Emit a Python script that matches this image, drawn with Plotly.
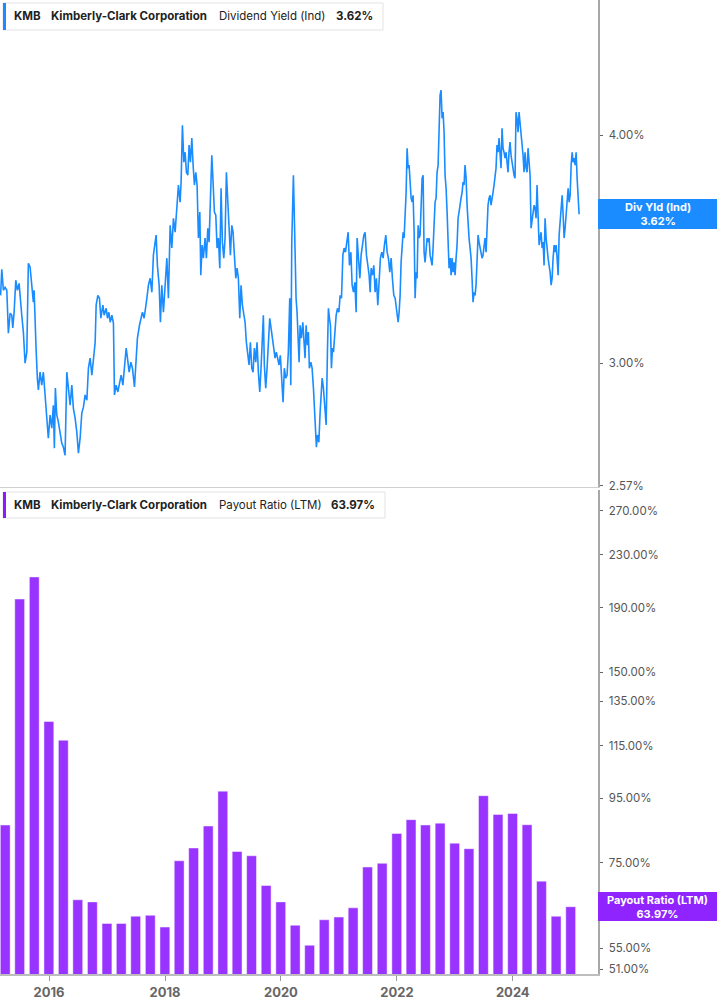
import numpy as np
import pandas as pd
import plotly.graph_objects as go

# ---------------- DATA ----------------
# Dividend yield (Ind), %; times are decimal years
yield_time = [
    2015.164, 2015.184, 2015.212, 2015.241, 2015.271, 2015.298, 2015.328, 2015.357, 2015.374, 2015.397,
    2015.426, 2015.453, 2015.483, 2015.500, 2015.529, 2015.557, 2015.586, 2015.616, 2015.643, 2015.673,
    2015.702, 2015.729, 2015.742, 2015.759, 2015.776, 2015.798, 2015.816, 2015.845, 2015.874, 2015.902,
    2015.931, 2015.961, 2015.988, 2016.018, 2016.047, 2016.074, 2016.092, 2016.109, 2016.133, 2016.161,
    2016.190, 2016.219, 2016.247, 2016.276, 2016.306, 2016.333, 2016.363, 2016.392, 2016.419, 2016.449,
    2016.478, 2016.506, 2016.535, 2016.564, 2016.592, 2016.621, 2016.651, 2016.678, 2016.707, 2016.737,
    2016.764, 2016.794, 2016.811, 2016.840, 2016.868, 2016.892, 2016.927, 2016.949, 2016.984, 2017.006,
    2017.030, 2017.053, 2017.082, 2017.109, 2017.127, 2017.156, 2017.185, 2017.213, 2017.242, 2017.272,
    2017.299, 2017.329, 2017.351, 2017.380, 2017.410, 2017.437, 2017.472, 2017.501, 2017.523, 2017.558,
    2017.587, 2017.610, 2017.639,
    2017.668, 2017.686, 2017.713, 2017.743, 2017.772, 2017.799, 2017.829, 2017.846, 2017.868, 2017.898,
    2017.920, 2017.944, 2017.972, 2018.001, 2018.031, 2018.058, 2018.088, 2018.117, 2018.145, 2018.174,
    2018.203, 2018.231, 2018.260, 2018.277, 2018.300, 2018.324, 2018.346, 2018.369, 2018.393, 2018.415,
    2018.438, 2018.462, 2018.484, 2018.507, 2018.531, 2018.553, 2018.576, 2018.600, 2018.617, 2018.640,
    2018.662, 2018.691, 2018.714, 2018.738, 2018.760, 2018.783, 2018.807, 2018.829, 2018.852, 2018.876,
    2018.898, 2018.921, 2018.945, 2018.967, 2018.990, 2019.014, 2019.036, 2019.059, 2019.083, 2019.105,
    2019.128, 2019.152, 2019.174, 2019.197, 2019.221, 2019.243, 2019.266, 2019.290, 2019.312, 2019.335,
    2019.359, 2019.381, 2019.404, 2019.428, 2019.450, 2019.473, 2019.497, 2019.519, 2019.542, 2019.566,
    2019.588, 2019.611, 2019.635, 2019.657, 2019.680, 2019.697, 2019.714, 2019.738, 2019.761, 2019.783,
    2019.807, 2019.830, 2019.852, 2019.876, 2019.899, 2019.921, 2019.945, 2019.968, 2019.990, 2020.014,
    2020.037, 2020.059, 2020.083, 2020.106, 2020.128, 2020.152, 2020.170,
    2020.187, 2020.215, 2020.227, 2020.244, 2020.261, 2020.278, 2020.296, 2020.313, 2020.330, 2020.353,
    2020.377, 2020.399, 2020.416, 2020.434, 2020.456, 2020.473, 2020.490, 2020.515, 2020.537, 2020.560,
    2020.577, 2020.594, 2020.611, 2020.629, 2020.653, 2020.675, 2020.692, 2020.710, 2020.732, 2020.756,
    2020.779, 2020.801, 2020.818, 2020.836, 2020.853, 2020.870, 2020.887, 2020.905, 2020.929, 2020.951,
    2020.974, 2020.998, 2021.020, 2021.043, 2021.067, 2021.089, 2021.112, 2021.136, 2021.158, 2021.181,
    2021.205, 2021.227, 2021.250, 2021.274, 2021.296, 2021.313, 2021.336, 2021.360, 2021.382, 2021.405,
    2021.429, 2021.451, 2021.474, 2021.498, 2021.520, 2021.538, 2021.555, 2021.577, 2021.601, 2021.624,
    2021.646, 2021.670, 2021.693, 2021.715, 2021.739, 2021.762, 2021.784, 2021.808, 2021.831, 2021.853,
    2021.877, 2021.900, 2021.922, 2021.946, 2021.969, 2021.986, 2022.003, 2022.021, 2022.038, 2022.055,
    2022.072, 2022.090, 2022.107, 2022.124, 2022.141, 2022.159, 2022.176, 2022.193, 2022.210, 2022.228,
    2022.245, 2022.262, 2022.279, 2022.297, 2022.314, 2022.331, 2022.348, 2022.366, 2022.383, 2022.400,
    2022.417, 2022.435, 2022.452, 2022.469, 2022.486, 2022.504, 2022.521, 2022.538, 2022.555, 2022.573,
    2022.590, 2022.607, 2022.624, 2022.642, 2022.659, 2022.676, 2022.693, 2022.711,
    2022.728, 2022.745, 2022.762, 2022.780, 2022.797, 2022.814, 2022.831, 2022.849, 2022.866, 2022.883,
    2022.900, 2022.918, 2022.935, 2022.952, 2022.969, 2022.987, 2023.004, 2023.021, 2023.038, 2023.056,
    2023.073, 2023.090, 2023.107, 2023.125, 2023.142, 2023.159, 2023.176, 2023.194, 2023.211, 2023.228,
    2023.245, 2023.263, 2023.280, 2023.297, 2023.314, 2023.332, 2023.349, 2023.366, 2023.383, 2023.401,
    2023.418, 2023.435, 2023.452, 2023.470, 2023.487, 2023.504, 2023.521, 2023.539, 2023.556, 2023.573,
    2023.590, 2023.608, 2023.625, 2023.642, 2023.659, 2023.677, 2023.694, 2023.711, 2023.728, 2023.746,
    2023.763, 2023.780, 2023.797, 2023.815, 2023.832, 2023.849, 2023.866, 2023.884, 2023.901, 2023.918,
    2023.935, 2023.953, 2023.970, 2023.987, 2024.004, 2024.022, 2024.039, 2024.056, 2024.073, 2024.091,
    2024.108, 2024.125, 2024.142, 2024.160, 2024.177, 2024.194, 2024.211, 2024.229, 2024.246, 2024.263,
    2024.280, 2024.298, 2024.315, 2024.332, 2024.349, 2024.367, 2024.384, 2024.401, 2024.418, 2024.436,
    2024.453, 2024.470, 2024.487, 2024.505, 2024.522, 2024.539, 2024.556, 2024.574, 2024.591, 2024.608,
    2024.625, 2024.643, 2024.660, 2024.677, 2024.694, 2024.712, 2024.729, 2024.746, 2024.763, 2024.781,
    2024.798, 2024.815, 2024.832, 2024.850, 2024.867, 2024.884, 2024.901, 2024.919, 2024.936, 2024.953,
    2024.970, 2024.988, 2025.005, 2025.022, 2025.039, 2025.056, 2025.074, 2025.091, 2025.108, 2025.125,
    2025.142,
]
yield_pct = [
    3.268, 3.377, 3.289, 3.301, 3.289, 3.116, 3.195, 3.187, 3.136, 3.199,
    3.331, 3.289, 3.318, 3.256, 3.187, 3.120, 3.000, 3.042, 3.403, 3.386,
    3.310, 3.240, 3.289, 3.147, 3.058, 2.944, 2.900, 2.966, 2.918, 2.966,
    2.893, 2.799, 2.729, 2.810, 2.764, 2.845, 2.695, 2.907, 2.810, 2.785,
    2.750, 2.712, 2.698, 2.671, 2.966, 2.918, 2.845, 2.918, 2.834, 2.799,
    2.750, 2.678, 2.729, 2.817, 2.838, 2.882, 2.863, 2.981, 3.019, 2.955,
    3.030, 3.080, 3.228, 3.268, 3.256, 3.175, 3.228, 3.187, 3.215, 3.175,
    3.199, 3.159, 3.187, 3.155, 2.882, 2.918, 2.893, 2.929, 2.955, 2.918,
    2.981, 3.058, 3.019, 2.966, 3.004, 2.981, 2.911, 3.004, 3.096, 3.147,
    3.175, 3.199, 3.175,
    3.215, 3.256, 3.310, 3.339, 3.281, 3.438, 3.495, 3.526, 3.394, 3.310,
    3.159, 3.310, 3.199, 3.310, 3.425, 3.256, 3.570, 3.469, 3.602, 3.539,
    3.630, 3.756, 3.676, 3.770, 4.050, 3.866, 3.915, 3.817, 3.803, 3.950,
    3.866, 3.985, 3.852, 3.756, 3.817, 3.756, 3.513, 3.630, 3.352, 3.482,
    3.425, 3.513, 3.425, 3.557, 3.495, 3.694, 3.900, 3.770, 3.630, 3.616,
    3.469, 3.513, 3.382, 3.741, 3.495, 3.425, 3.513, 3.817, 3.676, 3.539,
    3.438, 3.570, 3.539, 3.438, 3.339, 3.382, 3.339, 3.175, 3.310, 3.228,
    3.199, 3.159, 3.080, 3.042, 2.993, 3.080, 2.981, 2.966, 3.058, 3.004,
    3.080, 2.966, 2.893, 2.981, 3.136, 3.187, 2.993, 2.907, 2.981, 3.069,
    3.175, 3.136, 3.096, 3.069, 3.019, 3.042, 3.019, 2.993, 3.030, 2.944,
    2.856, 2.981, 2.944, 2.955, 3.042, 3.256, 2.918,
    3.495, 3.803, 3.662, 3.394, 3.256, 3.199, 3.069, 3.004, 3.147, 3.096,
    3.159, 3.069, 3.019, 3.147, 3.069, 3.120, 2.981, 3.004, 2.981, 2.907,
    2.820, 2.740, 2.698, 2.740, 2.715, 2.820, 2.882, 2.944, 2.907, 2.845,
    2.775, 3.042, 3.215, 3.175, 3.147, 2.981, 3.058, 3.042, 3.136, 3.187,
    3.215, 3.199, 3.268, 3.256, 3.438, 3.469, 3.451, 3.495, 3.539, 3.394,
    3.451, 3.310, 3.281, 3.322, 3.199, 3.513, 3.425, 3.339, 3.438, 3.482,
    3.526, 3.539, 3.438, 3.394, 3.352, 3.281, 3.382, 3.352, 3.394, 3.281,
    3.339, 3.228, 3.339, 3.425, 3.451, 3.425, 3.482, 3.526, 3.451, 3.425,
    3.365, 3.425, 3.339, 3.268, 3.256, 3.228, 3.187, 3.159, 3.199, 3.268,
    3.407, 3.495, 3.539, 3.513, 3.602, 3.722, 3.935, 3.837, 3.852, 3.756,
    3.694, 3.676, 3.708, 3.539, 3.256, 3.365, 3.339, 3.570, 3.513, 3.526,
    3.630, 3.789, 3.803, 3.451, 3.407, 3.451, 3.513, 3.495, 3.513, 3.438,
    3.407, 3.394, 3.469, 3.630, 3.676, 3.694, 3.817, 3.852,
    4.118, 4.207, 4.234, 4.086, 4.118, 4.015, 3.803, 3.741, 3.630, 3.482,
    3.382, 3.425, 3.352, 3.425, 3.365, 3.407, 3.352, 3.425, 3.482, 3.602,
    3.648, 3.662, 3.694, 3.722, 3.770, 3.756, 3.852, 3.789, 3.662, 3.570,
    3.513, 3.469, 3.425, 3.339, 3.240, 3.281, 3.268, 3.310, 3.438, 3.526,
    3.495, 3.469, 3.451, 3.425, 3.438, 3.482, 3.513, 3.451, 3.602, 3.662,
    3.694, 3.708, 3.662, 3.708, 3.722, 3.756, 3.803, 3.837, 3.950, 3.915,
    3.985, 3.886, 3.837, 4.035, 3.935, 3.915, 3.886, 3.915, 3.852, 3.817,
    3.915, 3.965, 3.900, 3.866, 3.837, 3.803, 3.789, 4.118, 4.086, 4.015,
    4.118, 4.066, 4.015, 3.985, 3.900, 3.817, 3.915, 3.837, 3.817, 3.935,
    3.866, 3.803, 3.557, 3.602, 3.630, 3.662, 3.648, 3.602, 3.756, 3.539,
    3.482, 3.513, 3.539, 3.469, 3.495, 3.394, 3.602, 3.513, 3.451, 3.425,
    3.394, 3.365, 3.310, 3.339, 3.425, 3.482, 3.451, 3.482, 3.425, 3.352,
    3.526, 3.602, 3.648, 3.708, 3.616, 3.513, 3.557, 3.630, 3.722, 3.741,
    3.676, 3.708, 3.852, 3.915, 3.866, 3.886, 3.852, 3.915, 3.789, 3.722,
    3.62,
]

# Payout ratio (LTM), %, quarterly
payout_quarters = pd.date_range("2015-03-31", periods=40, freq="QE")
payout_pct = [86.1, 195.9, 212.3, 125.5, 117.2, 65.6, 65.1, 60.2, 60.2, 61.8,
              62.0, 59.4, 75.6, 79.2, 85.8, 97.4, 78.2, 77.0, 69.1, 65.1,
              59.8, 55.6, 61.0, 61.6, 63.7, 73.9, 74.9, 83.5, 87.8, 86.1,
              86.7, 80.6, 79.0, 95.8, 89.5, 89.8, 86.2, 70.2, 61.8, 63.97]

yield_ticks = [2.57, 3.00, 4.00]
payout_ticks = [51, 55, 75, 95, 115, 135, 150, 190, 230, 270]
x_tick_years = ["2016", "2018", "2020", "2022", "2024"]

ticker = "KMB"
company = "Kimberly-Clark Corporation"
yield_name = "Dividend Yield (Ind)"
payout_name = "Payout Ratio (LTM)"
last_yield = yield_pct[-1]
last_payout = payout_pct[-1]

# ---------------- HELPERS ----------------
def dec_year_to_dt(t):
    y = int(np.floor(t))
    a = pd.Timestamp(year=y, month=1, day=1)
    b = pd.Timestamp(year=y + 1, month=1, day=1)
    return a + (b - a) * (t - y)

yield_dates = [dec_year_to_dt(t) for t in yield_time]

BLUE = "#1a8cff"
PURPLE = "#9933ff"
FONT = "Inter, Roboto, 'Noto Sans', sans-serif"

W, H = 717, 1005
ML, MR, MT, MB = 0, 119, 0, 31
PW = W - ML - MR
PH = H - MT - MB

def px(x):
    return x / PW

def py(y):
    return (PH - y) / PH

fig = go.Figure()

fig.add_trace(go.Scatter(
    x=yield_dates, y=yield_pct, mode="lines",
    line=dict(color=BLUE, width=1.6),
    xaxis="x", yaxis="y", hoverinfo="skip", showlegend=False,
))

fig.add_trace(go.Bar(
    x=payout_quarters, y=payout_pct,
    width=62 * 86400000,
    marker=dict(color=PURPLE, line=dict(color="rgba(255,255,255,0.45)", width=1)),
    xaxis="x2", yaxis="y2", hoverinfo="skip", showlegend=False,
))

xrange = ["2015-02-26", "2025-06-21"]
tickvals_x = [pd.Timestamp(f"{y}-01-01") for y in x_tick_years]

axis_font = dict(family=FONT, size=11.5, color="#555555")

fig.update_layout(
    width=W, height=H,
    margin=dict(l=ML, r=MR, t=MT, b=MB),
    paper_bgcolor="white", plot_bgcolor="white",
    font=dict(family=FONT),
    bargap=0,
    xaxis=dict(
        domain=[0, 1], anchor="y", range=xrange, type="date",
        showticklabels=False, ticks="", showgrid=False, zeroline=False,
        showline=True, linecolor="#d0d0d0", linewidth=1, matches="x2",
    ),
    yaxis=dict(
        domain=[0.5, 1], anchor="x", type="log", side="right",
        range=[np.log10(2.566), np.log10(4.744)],
        tickvals=yield_ticks, ticktext=[f"{v:.2f}%" for v in yield_ticks],
        ticks="outside", ticklen=3, tickwidth=1, tickcolor="#666",
        tickfont=axis_font, ticklabelstandoff=4,
        showgrid=False, zeroline=False,
        showline=True, linecolor="#a8a8a8", linewidth=1.5,
    ),
    xaxis2=dict(
        domain=[0, 1], anchor="y2", range=xrange, type="date",
        tickvals=tickvals_x, ticktext=x_tick_years,
        tickfont=dict(family=FONT, size=13, color="#666666", weight="bold"),
        ticks="outside", ticklen=5, tickcolor="#999", tickwidth=1,
        showgrid=False, zeroline=False,
        showline=True, linecolor="#bdbdbd", linewidth=2,
    ),
    yaxis2=dict(
        domain=[0, 1 - 490 / PH], anchor="x2", type="log", side="right",
        range=[np.log10(50.08), np.log10(291.3)],
        tickvals=payout_ticks, ticktext=[f"{v:.2f}%" for v in payout_ticks],
        ticks="outside", ticklen=3, tickwidth=1, tickcolor="#666",
        tickfont=axis_font, ticklabelstandoff=4,
        showgrid=False, zeroline=False,
        showline=True, linecolor="#a8a8a8", linewidth=1.5,
    ),
)

shapes = []
annotations = []

def legend_box(y_top, y_bot, x_right, color, parts):
    shapes.append(dict(type="rect", xref="paper", yref="paper",
                       x0=px(3), x1=px(x_right), y0=py(y_bot), y1=py(y_top),
                       line=dict(color="#e3e3e3", width=1), fillcolor="white", layer="above"))
    shapes.append(dict(type="rect", xref="paper", yref="paper",
                       x0=px(3), x1=px(6), y0=py(y_bot), y1=py(y_top),
                       line=dict(width=0), fillcolor=color, layer="above"))
    yc = py((y_top + y_bot) / 2)
    for xpos, text, bold in parts:
        annotations.append(dict(
            xref="paper", yref="paper", x=px(xpos), y=yc,
            xanchor="left", yanchor="middle", showarrow=False,
            text=f"<b>{text}</b>" if bold else text,
            font=dict(family=FONT, size=11.5, color="#222222"),
        ))

legend_box(3, 30, 383, BLUE, [
    (12, ticker, True), (49, company, True), (217, yield_name, False),
    (334, f"{last_yield:.2f}%", True)])
legend_box(492, 518, 385, "#8c1aff", [
    (12, ticker, True), (49, company, True), (217, payout_name, False),
    (329, f"{last_payout:.2f}%", True)])

def value_label(y_top, y_bot, color, line1, line2):
    shapes.append(dict(type="rect", xref="paper", yref="paper",
                       x0=1.0, x1=W / PW, y0=py(y_bot), y1=py(y_top),
                       line=dict(width=0), fillcolor=color, layer="above"))
    annotations.append(dict(
        xref="paper", yref="paper", x=(PW + (W - PW) / 2) / PW, y=py((y_top + y_bot) / 2),
        xanchor="center", yanchor="middle", showarrow=False,
        text=f"<b>{line1}</b><br><b>{line2}</b>",
        font=dict(family=FONT, size=11, color="white"),
    ))

value_label(199, 229, BLUE, "Div Yld (Ind)", f"{last_yield:.2f}%")
value_label(892, 921, "#8f24ff", payout_name, f"{last_payout:.2f}%")

fig.update_layout(shapes=shapes, annotations=annotations)

fig.write_html("out.html",
               config={"displayModeBar": False, "staticPlot": True},
               post_script="document.body.style.margin='0';document.body.style.overflow='hidden';")
